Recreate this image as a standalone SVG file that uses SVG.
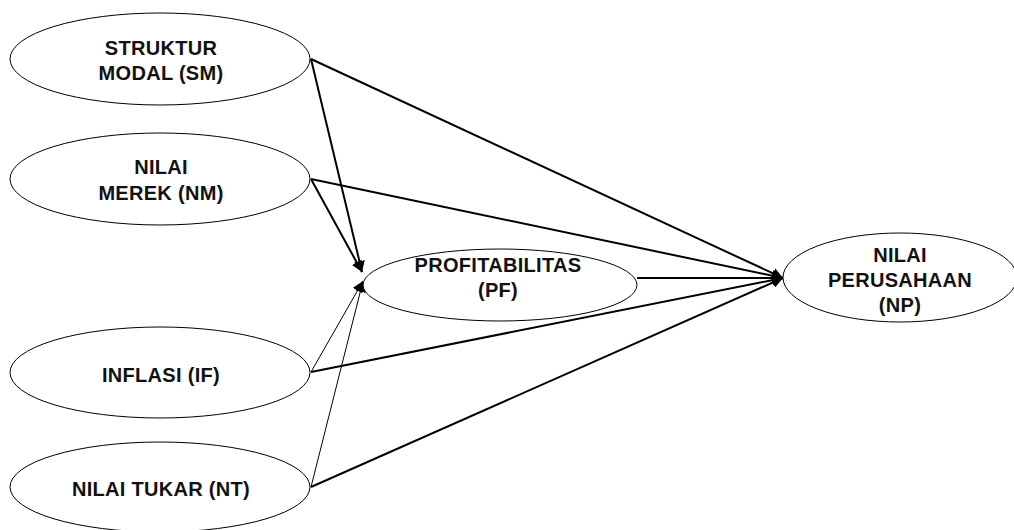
<svg xmlns="http://www.w3.org/2000/svg" width="1014" height="530" viewBox="0 0 1014 530">
<style>
.n{fill:#fff;stroke:#000;stroke-width:1}
.t{font-family:"Liberation Sans",Arial,sans-serif;font-weight:bold;font-size:20px;letter-spacing:0.3px;fill:#111;text-anchor:middle}
.b{stroke:#000;stroke-width:2;fill:none}
.l{stroke:#000;stroke-width:1;fill:none}
</style>
<defs>
<marker id="a" viewBox="0 0 10 10" refX="10" refY="5" markerWidth="11" markerHeight="11" markerUnits="userSpaceOnUse" orient="auto"><path d="M0,0 L10,5 L0,10 z" fill="#000"/></marker>
</defs>
<rect width="1014" height="530" fill="#fff"/>
<g id="connectors">
<line class="b" x1="311" y1="59" x2="783" y2="278" marker-end="url(#a)"/>
<line class="b" x1="311" y1="59" x2="362" y2="272" marker-end="url(#a)"/>
<line class="b" x1="311" y1="179" x2="783" y2="278" marker-end="url(#a)"/>
<line class="b" x1="311" y1="179" x2="362" y2="272" marker-end="url(#a)"/>
<line class="b" x1="311" y1="372" x2="783" y2="278" marker-end="url(#a)"/>
<line class="l" x1="311" y1="372" x2="363" y2="281" marker-end="url(#a)"/>
<line class="b" x1="311" y1="487" x2="783" y2="278" marker-end="url(#a)"/>
<line class="l" x1="311" y1="487" x2="363" y2="281" marker-end="url(#a)"/>
<line class="b" x1="637" y1="278" x2="783" y2="278" marker-end="url(#a)"/>
</g>
<g id="SM"><ellipse class="n" cx="160" cy="59" rx="150" ry="46"/><text class="t" x="161" y="55">STRUKTUR</text><text class="t" x="161" y="80">MODAL (SM)</text></g>
<g id="NM"><ellipse class="n" cx="160" cy="179" rx="150" ry="46"/><text class="t" x="161" y="174">NILAI</text><text class="t" x="161" y="200">MEREK (NM)</text></g>
<g id="IF"><ellipse class="n" cx="160" cy="372.5" rx="150" ry="45.5"/><text class="t" x="161" y="382">INFLASI (IF)</text></g>
<g id="NT"><ellipse class="n" cx="160" cy="487" rx="150" ry="45"/><text class="t" x="161" y="496">NILAI TUKAR (NT)</text></g>
<g id="PF"><ellipse class="n" cx="500" cy="285" rx="137" ry="36"/><text class="t" x="498" y="272">PROFITABILITAS</text><text class="t" x="498" y="297">(PF)</text></g>
<g id="NP"><ellipse class="n" cx="900" cy="277.5" rx="117" ry="44.5"/><text class="t" x="900" y="262">NILAI</text><text class="t" x="900" y="287">PERUSAHAAN</text><text class="t" x="900" y="312">(NP)</text></g>
</svg>
